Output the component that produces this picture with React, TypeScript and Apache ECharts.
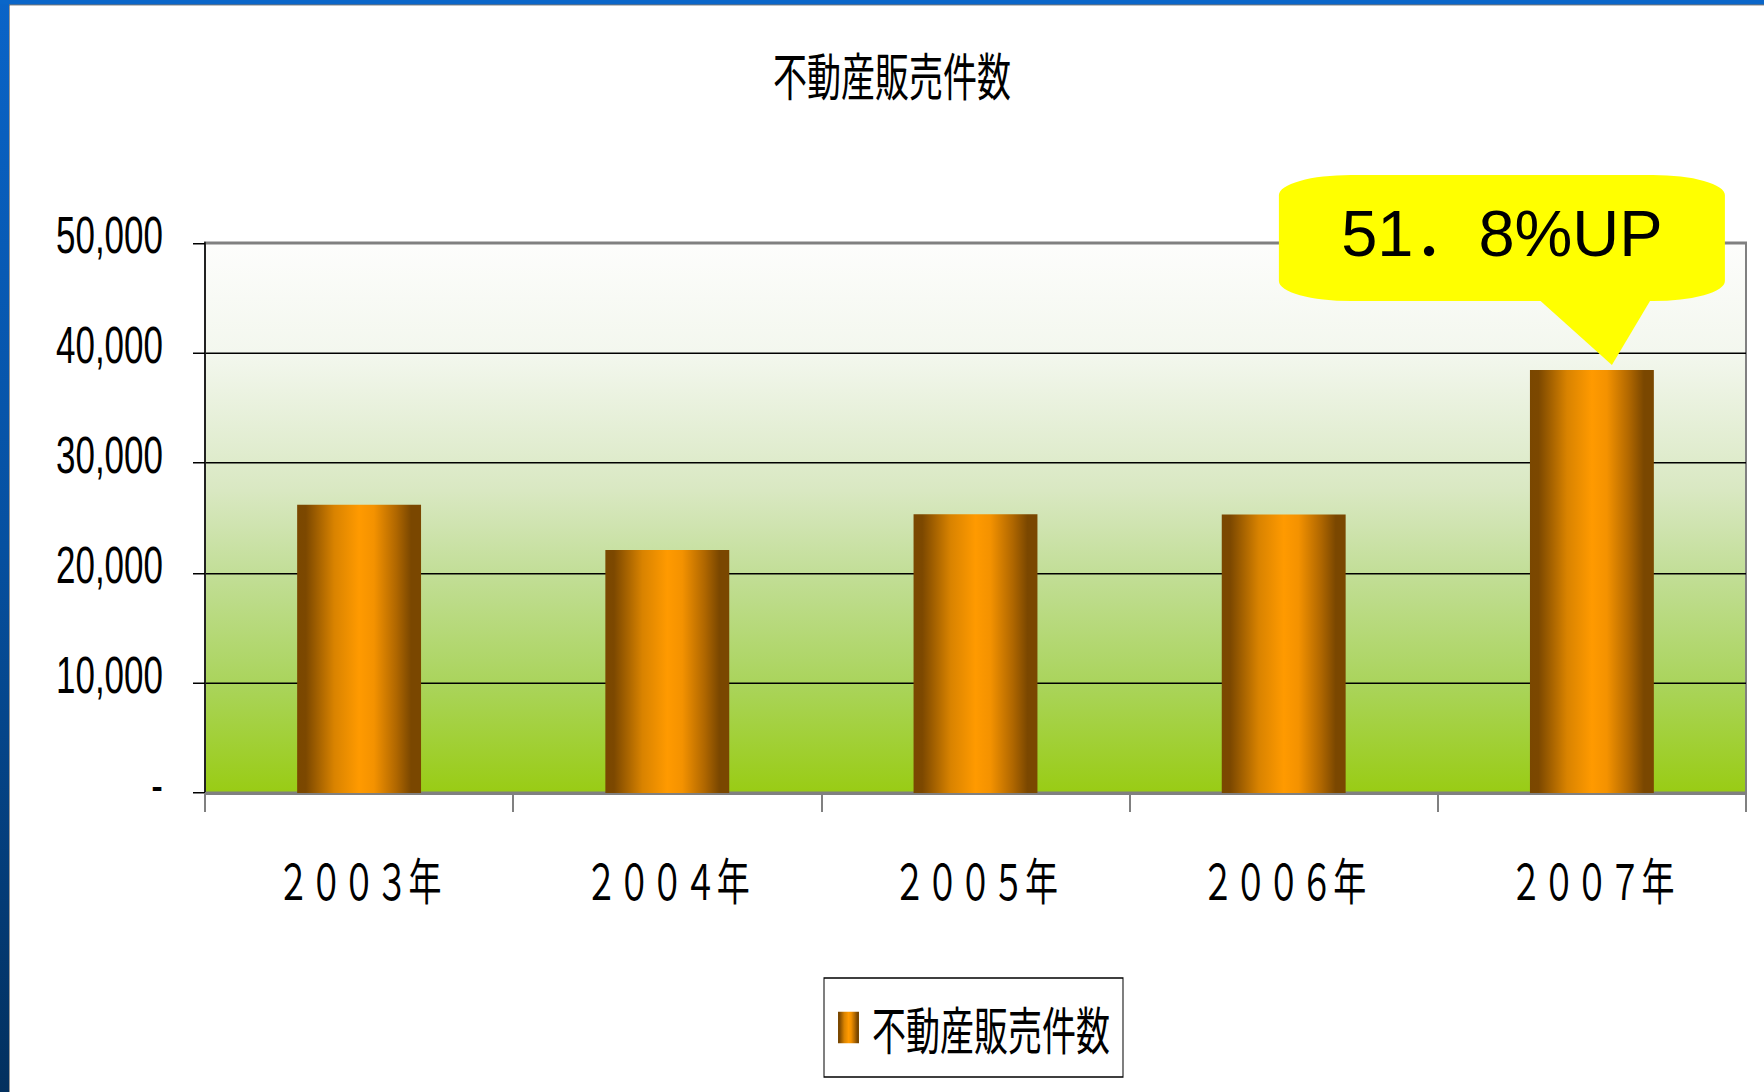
import React, { useEffect, useRef } from 'react';
import * as echarts from 'echarts';

// ---- data ----
const categories = ['２００３年', '２００４年', '２００５年', '２００６年', '２００７年'];
const salesCounts = [26200, 22100, 25350, 25330, 38450];
const yMin = 0;
const yMax = 50000;
const yInterval = 10000;
const seriesName = '不動産販売件数';
const titleText = '不動産販売件数';
const calloutText = '51．8%UP';

// ---- layout ----
const W = 1764;
const H = 1092;
const S = 1.5; // vertical stretch of the original slide chart
const PH = H / S;

const CJK = '"Noto Sans CJK JP", "Noto Sans CJK SC", sans-serif';
const LAT = '"Liberation Sans", Arial, sans-serif';
const CALLOUT_FONT = '"Liberation Sans", "Noto Sans CJK SC", sans-serif';

export default function App() {
  const ref = useRef<HTMLDivElement>(null);

  useEffect(() => {
    if (!ref.current) return;
    const chart = echarts.init(ref.current, null, { renderer: 'svg' });

    const barGrad = new echarts.graphic.LinearGradient(0, 0, 1, 0, [
      { offset: 0, color: '#7a4700' },
      { offset: 0.07, color: '#7c4800' },
      { offset: 0.3, color: '#d98300' },
      { offset: 0.5, color: '#ff9a00' },
      { offset: 0.62, color: '#f49200' },
      { offset: 0.8, color: '#b06700' },
      { offset: 0.92, color: '#7a4700' },
      { offset: 1, color: '#7a4700' },
    ]);
    const plotGrad = new echarts.graphic.LinearGradient(0, 0, 0, 1, [
      { offset: 0, color: '#fdfdfc' },
      { offset: 0.2, color: '#f3f7ee' },
      { offset: 0.45, color: '#d9e8c2' },
      { offset: 0.6, color: '#c2de97' },
      { offset: 0.8, color: '#aad45c' },
      { offset: 1, color: '#99cc14' },
    ]);
    const leftBlue = new echarts.graphic.LinearGradient(0, 0, 0, 1, [
      { offset: 0, color: '#0a64c8' },
      { offset: 0.5, color: '#0650a0' },
      { offset: 1, color: '#03305e' },
    ]);

    chart.setOption({
      animation: false,
      backgroundColor: '#ffffff',
      title: {
        text: titleText,
        left: 773,
        top: 32,
        padding: 0,
        textStyle: { fontSize: 34, fontWeight: 'normal', fontFamily: CJK, color: '#000' },
      },
      legend: {
        data: [{ name: seriesName, icon: 'rect' }],
        left: 824,
        top: 652,
        padding: [16, 13, 16, 14],
        itemWidth: 21,
        itemHeight: 21,
        borderColor: '#000',
        borderWidth: 1,
        backgroundColor: '#fff',
        textStyle: { fontSize: 34, fontFamily: CJK, color: '#000', padding: [0, 0, 0, 8] },
      },
      grid: {
        left: 205,
        right: 18,
        top: 162,
        bottom: PH - 528.7,
        show: true,
        backgroundColor: plotGrad,
        borderColor: '#808080',
        borderWidth: 2,
      },
      xAxis: {
        type: 'category',
        data: categories,
        boundaryGap: true,
        axisLine: { lineStyle: { color: '#808080', width: 2 } },
        axisTick: { show: true, alignWithLabel: false, length: 12.7, lineStyle: { color: '#808080', width: 2 } },
        axisLabel: { margin: 40, fontSize: 33, fontFamily: CJK, color: '#000' },
      },
      yAxis: {
        type: 'value',
        min: yMin,
        max: yMax,
        interval: yInterval,
        axisLine: { show: true, lineStyle: { color: '#222', width: 2 } },
        axisTick: { show: true, length: 12, lineStyle: { color: '#000', width: 1 } },
        axisLabel: {
          margin: 42,
          color: '#000',
          formatter: (v: number) => `{v|${v === 0 ? '-' : v.toLocaleString('en-US')}}`,
          rich: {
            v: { fontSize: 35, fontFamily: LAT, color: '#000', padding: [0, 0, 11, 0] },
          },
        },
        splitLine: { show: true, showMaxLine: false, lineStyle: { color: '#000', width: 1 } },
      },
      series: [
        {
          name: seriesName,
          type: 'bar',
          data: salesCounts,
          barWidth: '40.2%',
          itemStyle: { color: barGrad },
        },
      ],
    });

    // callout anchored to the 2007 bar top
    const last = salesCounts.length - 1;
    const [bx, by] = chart.convertToPixel({ xAxisIndex: 0, yAxisIndex: 0 }, [last, salesCounts[last]]) as number[];
    const tipX = bx + 20;
    const tipY = by - 3.3;
    const boxL = tipX - 333;
    const boxW = 446;
    const boxB = tipY - 42.7;
    const boxT = tipY - 126.7;
    const boxH = boxB - boxT;
    const ry = 13.3;
    const k = 5.4;

    chart.setOption({
      graphic: [
        { type: 'rect', x: 0, y: 0, shape: { x: 0, y: 0, width: 9, height: PH }, style: { fill: leftBlue }, z: 100 },
        { type: 'rect', x: 0, y: 0, shape: { x: 0, y: 0, width: W, height: 3.1 }, style: { fill: '#0a66c9' }, z: 100 },
        { type: 'line', shape: { x1: 9.5, y1: 3.1, x2: 9.5, y2: PH }, style: { stroke: '#9a9a9a', lineWidth: 1 }, z: 100 },
        { type: 'line', shape: { x1: 9, y1: 3.3, x2: W, y2: 3.3 }, style: { stroke: '#4a4a4a', lineWidth: 0.6 }, z: 100 },
        {
          type: 'polygon',
          shape: { points: [[tipX - 73, boxB - 1], [tipX + 39, boxB - 1], [tipX, tipY]] },
          style: { fill: '#ffff00' },
          z: 110,
        },
        {
          type: 'rect',
          x: boxL,
          y: boxT,
          scaleX: k,
          shape: { x: 0, y: 0, width: boxW / k, height: boxH, r: ry },
          style: { fill: '#ffff00' },
          z: 110,
        },
        {
          type: 'text',
          x: boxL + boxW / 2,
          y: boxT + boxH / 2 - 3,
          scaleY: 1 / S,
          style: {
            text: calloutText,
            fontSize: 65,
            fontFamily: CALLOUT_FONT,
            fill: '#000',
            align: 'center',
            verticalAlign: 'middle',
          },
          z: 111,
        },
      ],
    });

    return () => chart.dispose();
  }, []);

  return (
    <div
      ref={ref}
      style={{
        position: 'fixed',
        left: 0,
        top: 0,
        width: W,
        height: PH,
        transform: `scaleY(${S})`,
        transformOrigin: '0 0',
      }}
    />
  );
}
